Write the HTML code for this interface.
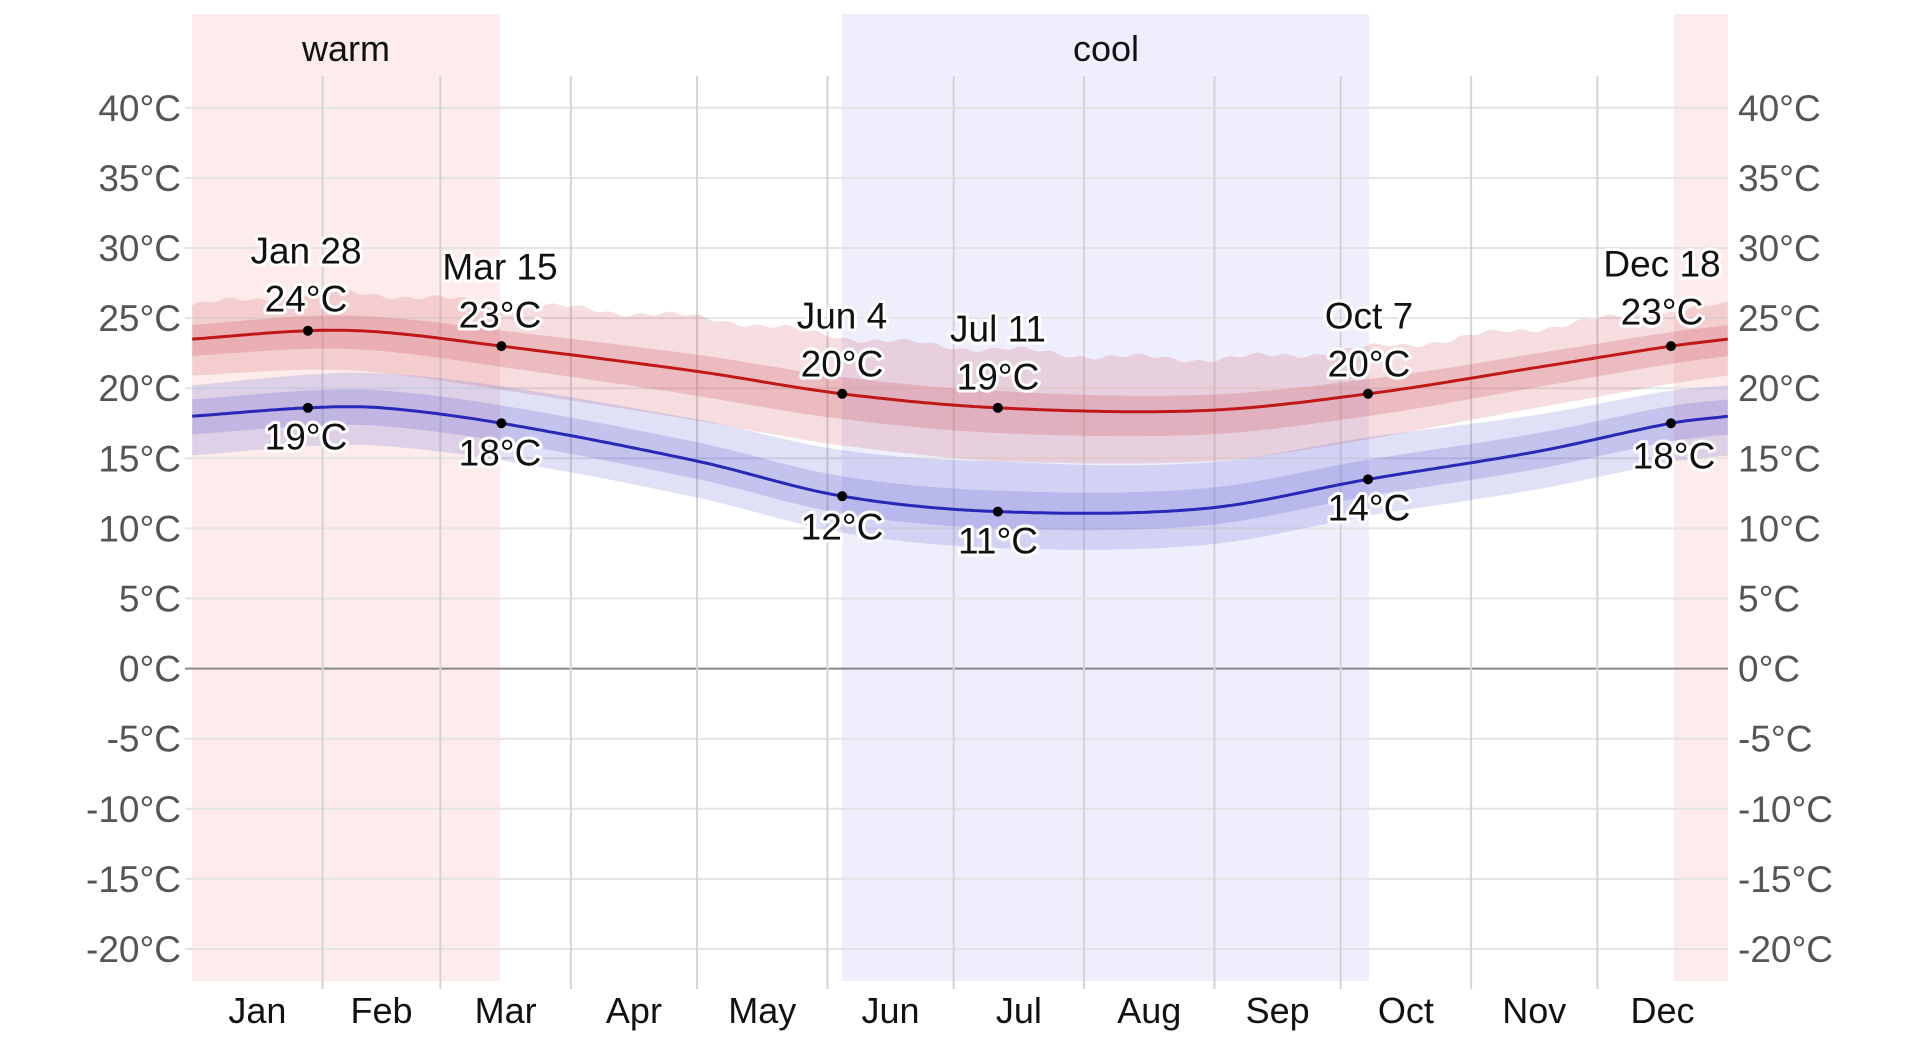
<!DOCTYPE html>
<html><head><meta charset="utf-8">
<style>
html,body{margin:0;padding:0;background:#fff;width:1920px;height:1038px;overflow:hidden}
svg{display:block}
text{font-family:"Liberation Sans",Arial,sans-serif}
.yl{font-size:37px;fill:#555}
.ml{font-size:36px;fill:#111;text-anchor:middle}
.an{font-size:37px;fill:#111;text-anchor:middle;dominant-baseline:central;stroke:#fff;stroke-width:6px;paint-order:stroke;stroke-linejoin:round}
</style></head><body>
<svg id="s" width="1920" height="1038" viewBox="0 0 1920 1038" xmlns="http://www.w3.org/2000/svg">
<rect x="192" y="14" width="308" height="967" fill="#fdeceb"/>
<rect x="842" y="14" width="527" height="967" fill="#eeeefd"/>
<rect x="1674" y="14" width="54" height="967" fill="#fdeceb"/>
<g id="grid"></g>
<g id="bands"></g>
<text x="346" y="61" font-size="36" text-anchor="middle" fill="#111">warm</text>
<text x="1106" y="61" font-size="36" text-anchor="middle" fill="#111">cool</text>
<g id="ylab"></g>
<g id="mlab"></g>
<g id="pts"></g>
<text class="an" x="306" y="251">Jan 28</text><text class="an" x="306" y="299">24°C</text><text class="an" x="306" y="437">19°C</text>
<text class="an" x="500" y="267">Mar 15</text><text class="an" x="500" y="315">23°C</text><text class="an" x="500" y="453">18°C</text>
<text class="an" x="842" y="316">Jun 4</text><text class="an" x="842" y="364">20°C</text><text class="an" x="842" y="527">12°C</text>
<text class="an" x="998" y="329">Jul 11</text><text class="an" x="998" y="377">19°C</text><text class="an" x="998" y="541">11°C</text>
<text class="an" x="1369" y="316">Oct 7</text><text class="an" x="1369" y="364">20°C</text><text class="an" x="1369" y="508">14°C</text>
<text class="an" x="1662" y="264">Dec 18</text><text class="an" x="1662" y="312">23°C</text><text class="an" x="1674" y="456">18°C</text>
</svg>
<script>
var NS="http://www.w3.org/2000/svg";
var X0=192.2,PD=4.207,Y0=668.6,PT=14.02;
function X(d){return X0+d*PD}function Y(t){return Y0-t*PT}
function el(p,tag,a,txt){var e=document.createElementNS(NS,tag);for(var k in a)e.setAttribute(k,a[k]);if(txt)e.textContent=txt;document.getElementById(p).appendChild(e);return e}
for(var t=-20;t<=40;t+=5){var y=Y(t);
 el('grid','line',{x1:185,x2:1728,y1:y,y2:y,stroke:t==0?'#888':'#e4e4e4','stroke-width':2});
 el('ylab','text',{x:181,y:y+13,'text-anchor':'end','class':'yl'},t+'°C');
 el('ylab','text',{x:1738,y:y+13,'class':'yl'},t+'°C');}
var ml=[31,28,31,30,31,30,31,31,30,31,30,31],nm=['Jan','Feb','Mar','Apr','May','Jun','Jul','Aug','Sep','Oct','Nov','Dec'],c=0;
for(var i=0;i<12;i++){el('mlab','text',{x:X(c+ml[i]/2),y:1023,'class':'ml'},nm[i]);c+=ml[i];
 if(i<11)el('grid','line',{x1:X(c),x2:X(c),y1:76,y2:989,stroke:'#d4d4d4','stroke-width':2});}
function interp(k,d){var n=k.length;for(var i=0;i<n-1;i++){if(d>=k[i][0]&&d<=k[i+1][0]){
 var p0=k[Math.max(0,i-1)],p1=k[i],p2=k[i+1],p3=k[Math.min(n-1,i+2)];
 var h=p2[0]-p1[0],f=(d-p1[0])/h;
 var m1=(p2[1]-p0[1])/(p2[0]-p0[0]||1)*h,m2=(p3[1]-p1[1])/(p3[0]-p1[0]||1)*h;
 var f2=f*f,f3=f2*f;
 return (2*f3-3*f2+1)*p1[1]+(f3-2*f2+f)*m1+(-2*f3+3*f2)*p2[1]+(f3-f2)*m2;}}return k[n-1][1]}
var hi=[[0,23.5],[27.5,24.1],[45,24.0],[73.5,23],[120,21.2],[154.5,19.6],[191.5,18.6],[240,18.4],[279.5,19.6],[320,21.5],[351.5,23],[365,23.5]];
var lo=[[0,18.0],[27.5,18.6],[45,18.6],[73.5,17.5],[120,14.8],[154.5,12.3],[191.5,11.2],[240,11.4],[279.5,13.5],[320,15.5],[351.5,17.5],[365,18.0]];
// offsets [day, outerTop, innerTop, innerBot, outerBot]
var hoff=[[0,2.4,1.0,-1.2,-2.6],[60,2.8,1.1,-1.4,-3.0],[130,4.0,1.2,-1.8,-3.6],[191,4.2,1.2,-1.8,-3.8],[250,3.6,1.1,-1.7,-3.6],[300,3.0,1.0,-1.5,-3.0],[365,2.4,1.0,-1.2,-2.6]];
var loff=[[0,2.2,1.2,-1.3,-2.8],[100,2.8,1.3,-1.3,-2.6],[191,3.6,1.5,-1.2,-2.6],[280,3.0,1.4,-1.2,-2.6],[365,2.2,1.2,-1.3,-2.8]];
function off(o,d,j){for(var i=0;i<o.length-1;i++)if(d>=o[i][0]&&d<=o[i+1][0]){var f=(d-o[i][0])/(o[i+1][0]-o[i][0]);return o[i][j]+(o[i+1][j]-o[i][j])*f}return o[o.length-1][j]}
function band(k,o,jt,jb,fill,jit){var a=[],b=[];for(var d=0;d<=365;d+=1){var v=interp(k,d),j=jit?(Math.sin(d*0.9)*0.12+Math.sin(d*0.23)*0.2):0;
 a.push(X(d).toFixed(1)+','+Y(v+off(o,d,jt)+j).toFixed(1));b.unshift(X(d).toFixed(1)+','+Y(v+off(o,d,jb)).toFixed(1));}
 el('bands','polygon',{points:a.concat(b).join(' '),fill:fill});}
band(hi,hoff,1,4,'rgba(215,100,110,0.22)',1);
band(hi,hoff,2,3,'rgba(200,70,80,0.22)',0);
band(lo,loff,1,4,'rgba(100,100,215,0.2)',0);
band(lo,loff,2,3,'rgba(80,80,205,0.2)',0);
function line(k,col){var p=[];for(var d=0;d<=365;d+=1)p.push(X(d).toFixed(1)+','+Y(interp(k,d)).toFixed(1));
 el('bands','polyline',{points:p.join(' '),fill:'none',stroke:col,'stroke-width':3});}
line(hi,'#c01818');line(lo,'#2828b8');
[27.5,73.5,154.5,191.5,279.5,351.5].forEach(function(d){el('pts','circle',{cx:X(d),cy:Y(interp(hi,d)),r:5,fill:'#000'});el('pts','circle',{cx:X(d),cy:Y(interp(lo,d)),r:5,fill:'#000'});});
</script>
</body></html>
